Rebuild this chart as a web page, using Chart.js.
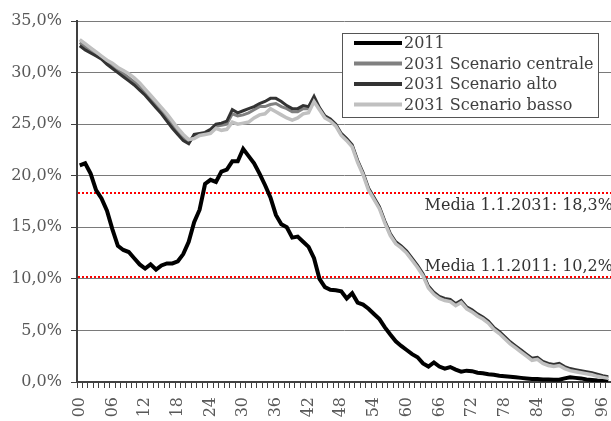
<!DOCTYPE html>
<html>
<head>
<meta charset="utf-8">
<script src="https://cdn.jsdelivr.net/npm/chart.js@4.4.1/dist/chart.umd.min.js"></script>
<style>
  html, body { margin: 0; padding: 0; background: #ffffff; }
  #wrap { width: 611px; height: 421px; }
</style>
</head>
<body>
<div id="wrap"><canvas id="chart" width="611" height="421"></canvas></div>
<script>
// Ages (single years) on the category axis
const ages = [
  '00','01','02','03','04','05','06','07','08','09',
  '10','11','12','13','14','15','16','17','18','19',
  '20','21','22','23','24','25','26','27','28','29',
  '30','31','32','33','34','35','36','37','38','39',
  '40','41','42','43','44','45','46','47','48','49',
  '50','51','52','53','54','55','56','57','58','59',
  '60','61','62','63','64','65','66','67','68','69',
  '70','71','72','73','74','75','76','77','78','79',
  '80','81','82','83','84','85','86','87','88','89',
  '90','91','92','93','94','95','96','97'
];

// Ages that carry a visible tick label
const labelledAges = ['00','06','12','18','24','30','36','42','48','54','60','66','72','78','84','90','96'];

// Percentage values per age
const values2011 = [
  21.0, 21.2, 20.2, 18.6, 17.8, 16.6, 14.8, 13.2, 12.8, 12.6,
  12.0, 11.4, 11.0, 11.4, 10.9, 11.3, 11.5, 11.5, 11.7, 12.4,
  13.6, 15.5, 16.7, 19.2, 19.6, 19.4, 20.4, 20.6, 21.4, 21.4,
  22.6, 21.9, 21.2, 20.2, 19.1, 17.9, 16.2, 15.3, 15.0, 14.0,
  14.1, 13.6, 13.1, 12.0, 10.0, 9.2, 8.95, 8.9, 8.8, 8.1,
  8.6, 7.7, 7.5, 7.1, 6.6, 6.1, 5.3, 4.6, 3.95, 3.5,
  3.1, 2.7, 2.4, 1.8, 1.5, 1.9, 1.5, 1.3, 1.45, 1.2,
  1.0, 1.1, 1.05, 0.9, 0.85, 0.75, 0.7, 0.6, 0.55, 0.5,
  0.45, 0.4, 0.35, 0.3, 0.3, 0.25, 0.25, 0.22, 0.22, 0.35,
  0.45, 0.4, 0.35, 0.25, 0.2, 0.15, 0.12, 0.1
];

const values2031Centrale = [
  32.9, 32.5, 32.1, 31.8, 31.4, 31.0, 30.6, 30.2, 29.9, 29.5,
  29.1, 28.7, 28.1, 27.5, 26.9, 26.3, 25.6, 24.9, 24.3, 23.7,
  23.2, 23.9, 24.0, 24.1, 24.3, 24.8, 24.9, 25.0, 26.0, 25.8,
  25.9, 26.1, 26.4, 26.7, 26.7, 26.9, 27.0, 26.7, 26.5, 26.2,
  26.2, 26.5, 26.5, 27.5, 26.5, 25.7, 25.4, 24.9, 24.0, 23.5,
  22.9, 21.4, 20.2, 18.7, 17.8, 16.9, 15.5, 14.3, 13.5, 13.1,
  12.6, 11.9, 11.2, 10.4, 9.2, 8.6, 8.2, 8.0, 7.9, 7.5,
  7.8, 7.2, 6.9, 6.5, 6.2, 5.8, 5.2, 4.8, 4.3, 3.8,
  3.4, 3.0, 2.6, 2.2, 2.3, 1.9, 1.7, 1.6, 1.7, 1.4,
  1.2, 1.1, 1.0, 0.9, 0.8, 0.65, 0.5, 0.4
];

const values2031Alto = [
  32.6, 32.2, 31.9, 31.6, 31.3, 30.8, 30.4, 30.0, 29.6, 29.2,
  28.8, 28.3, 27.8, 27.2, 26.6, 26.0, 25.3, 24.6, 24.0, 23.4,
  23.1, 24.0, 24.1, 24.2, 24.5, 25.0, 25.1, 25.3, 26.4, 26.1,
  26.3, 26.5, 26.7, 27.0, 27.2, 27.5, 27.5, 27.2, 26.8, 26.5,
  26.5, 26.8, 26.7, 27.7, 26.6, 25.8, 25.5, 25.0, 24.1, 23.6,
  23.0, 21.5, 20.3, 18.8, 17.9, 17.0, 15.6, 14.4, 13.6, 13.2,
  12.7, 12.0, 11.3, 10.5, 9.3, 8.7, 8.3, 8.1, 8.0, 7.6,
  7.9, 7.3, 7.0, 6.6, 6.3, 5.9, 5.3, 4.9, 4.4, 3.9,
  3.5, 3.1, 2.7, 2.3, 2.4, 2.0, 1.8, 1.7, 1.8, 1.5,
  1.3, 1.2, 1.1, 1.0, 0.9, 0.75, 0.6, 0.5
];

const values2031Basso = [
  33.2, 32.8, 32.4, 32.0, 31.6, 31.2, 30.9, 30.5, 30.2, 29.9,
  29.5, 29.0, 28.4, 27.8, 27.2, 26.6, 26.0, 25.3, 24.6, 24.0,
  23.5, 23.6, 23.9, 24.0, 24.1, 24.6, 24.4, 24.5, 25.2, 25.0,
  25.1, 25.2, 25.6, 25.9, 26.0, 26.5, 26.2, 25.9, 25.6, 25.4,
  25.6, 26.0, 26.1, 27.2, 26.4, 25.6, 25.3, 24.8, 23.9, 23.4,
  22.8, 21.3, 20.1, 18.6, 17.7, 16.8, 15.4, 14.2, 13.4, 13.0,
  12.5, 11.8, 11.1, 10.3, 9.1, 8.5, 8.1, 7.9, 7.8, 7.4,
  7.7, 7.1, 6.8, 6.4, 6.1, 5.7, 5.1, 4.7, 4.2, 3.7,
  3.3, 2.9, 2.5, 2.1, 2.2, 1.8, 1.6, 1.5, 1.6, 1.3,
  1.1, 1.0, 0.9, 0.8, 0.7, 0.55, 0.45, 0.35
];

// Reference averages drawn as dotted lines
const meanValues = [18.3, 10.2];
const meanLabels = ['Media 1.1.2031: 18,3%', 'Media 1.1.2011: 10,2%'];

const SERIF = '"DejaVu Serif", "Liberation Serif", serif';

// Dotted average lines behind the series, with their captions on top
const meanLinesPlugin = {
  id: 'meanLines',
  beforeDatasetsDraw(chart) {
    const { ctx, chartArea } = chart;
    const y = chart.scales.y;
    ctx.save();
    ctx.strokeStyle = '#ff0000';
    ctx.lineWidth = 2;
    ctx.setLineDash([2, 2]);
    meanValues.forEach(v => {
      const py = Math.round(y.getPixelForValue(v));
      ctx.beginPath();
      ctx.moveTo(chartArea.left + 1, py);
      ctx.lineTo(chartArea.right, py);
      ctx.stroke();
    });
    ctx.restore();
  },
  afterDatasetsDraw(chart) {
    const { ctx, chartArea } = chart;
    const y = chart.scales.y;
    ctx.save();
    ctx.font = '16px ' + SERIF;
    ctx.fillStyle = '#333333';
    ctx.textAlign = 'right';
    ctx.textBaseline = 'alphabetic';
    meanValues.forEach((v, i) => {
      const py = y.getPixelForValue(v);
      const base = i === 0 ? py + 17 : py - 6;
      ctx.fillText(meanLabels[i], chartArea.right + 2, base);
    });
    ctx.restore();
  }
};

// Boxed legend inside the plot area, top right
const boxLegendPlugin = {
  id: 'boxLegend',
  afterDraw(chart) {
    const { ctx, chartArea } = chart;
    const left = chartArea.right - 269;
    const top = chartArea.top + 12;
    const w = 256, h = 84;
    ctx.save();
    ctx.fillStyle = '#ffffff';
    ctx.fillRect(left, top, w, h);
    ctx.strokeStyle = '#555555';
    ctx.lineWidth = 1;
    ctx.strokeRect(left + 0.5, top + 0.5, w, h);
    ctx.font = '16px ' + SERIF;
    ctx.textAlign = 'left';
    ctx.textBaseline = 'middle';
    chart.data.datasets.forEach((ds, i) => {
      const cy = top + 10 + i * 20.5;
      ctx.strokeStyle = ds.borderColor;
      ctx.lineWidth = 4;
      ctx.beginPath();
      ctx.moveTo(left + 12, cy);
      ctx.lineTo(left + 60, cy);
      ctx.stroke();
      ctx.fillStyle = '#404040';
      ctx.fillText(ds.label, left + 62, cy + 1);
    });
    ctx.restore();
  }
};

const lineDefaults = { fill: false, tension: 0, pointRadius: 0, pointHoverRadius: 0 };

new Chart(document.getElementById('chart'), {
  type: 'line',
  data: {
    labels: ages,
    datasets: [
      { ...lineDefaults, label: '2011', data: values2011, borderColor: '#000000', borderWidth: 4, order: 3 },
      { ...lineDefaults, label: '2031 Scenario centrale', data: values2031Centrale, borderColor: '#808080', borderWidth: 3, order: 2 },
      { ...lineDefaults, label: '2031 Scenario alto', data: values2031Alto, borderColor: '#333333', borderWidth: 3, order: 1 },
      { ...lineDefaults, label: '2031 Scenario basso', data: values2031Basso, borderColor: '#c0c0c0', borderWidth: 3.5, order: 0 }
    ]
  },
  options: {
    responsive: false,
    devicePixelRatio: 1,
    animation: false,
    events: [],
    layout: { padding: { top: 21, right: 0, left: 0, bottom: 0 } },
    plugins: {
      legend: { display: false },
      tooltip: { enabled: false },
      title: { display: false }
    },
    scales: {
      x: {
        type: 'category',
        offset: true,
        grid: {
          offset: true,
          drawOnChartArea: false,
          drawTicks: true,
          tickLength: 6,
          tickColor: '#404040',
          tickWidth: 1
        },
        border: { color: '#404040', width: 2 },
        ticks: {
          autoSkip: false,
          minRotation: 90,
          maxRotation: 90,
          padding: 9,
          color: '#595959',
          font: { family: SERIF, size: 16 },
          callback(value) {
            const lab = this.getLabelForValue(value);
            return labelledAges.includes(lab) ? lab : '';
          }
        },
        afterFit(scale) {
          scale.height = 39;
          scale.paddingLeft = 0;
          scale.paddingRight = 0;
        }
      },
      y: {
        min: 0,
        max: 35,
        grid: {
          color: '#7a7a7a',
          lineWidth: 1,
          tickLength: 6,
          tickColor: '#404040'
        },
        border: { color: '#404040', width: 2 },
        ticks: {
          stepSize: 5,
          padding: 9,
          color: '#595959',
          font: { family: SERIF, size: 16 },
          callback(v) { return v.toFixed(1).replace('.', ',') + '%'; }
        },
        afterFit(scale) {
          scale.width = 77;
          scale.paddingTop = 0;
          scale.paddingBottom = 0;
        }
      }
    }
  },
  plugins: [meanLinesPlugin, boxLegendPlugin]
});
</script>
</body>
</html>
